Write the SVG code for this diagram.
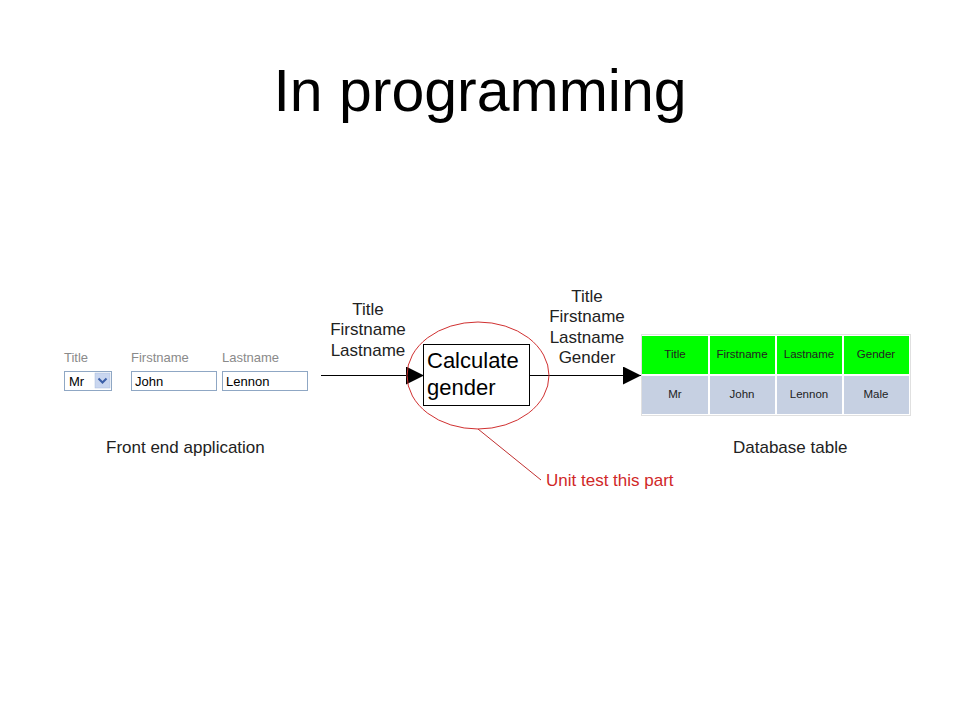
<svg xmlns="http://www.w3.org/2000/svg" width="960" height="720" viewBox="0 0 960 720">
<defs>
<style>
text{font-family:"Liberation Sans",Arial,sans-serif}
.lbl{font-size:13px;fill:#8a8a8a}
.inp{fill:#fff;stroke:#8fa7c4;stroke-width:1}
.val{font-size:13px;fill:#000}
.flow{font-size:17px;fill:#222;text-anchor:middle}
.cap{font-size:17px;fill:#222}
.hd{fill:#00ff00}
.bd{fill:#c6d0e2}
.ct{font-size:11.5px;fill:#222;text-anchor:middle}
.conn{stroke:#000;stroke-width:1;fill:none}
</style>
<marker id="ah" markerWidth="18" markerHeight="18" refX="18" refY="9" orient="auto" markerUnits="userSpaceOnUse">
<path d="M0,0 L18,9 L0,18 Z" fill="#000"/>
</marker>
</defs>
<rect width="960" height="720" fill="#fff"/>
<text x="480" y="111" font-size="59" text-anchor="middle" fill="#000">In programming</text>

<g id="frontend">
<text class="lbl" x="64" y="362">Title</text>
<text class="lbl" x="131" y="362">Firstname</text>
<text class="lbl" x="222" y="362">Lastname</text>
<rect class="inp" x="64.5" y="371.5" width="47" height="19"/>
<text class="val" x="69" y="386">Mr</text>
<rect x="95" y="373" width="15" height="15" fill="#c9d6ef" stroke="#a9bbdc" stroke-width="0.5"/>
<path d="M98.5,378.5 L102.5,382.5 L106.5,378.5" fill="none" stroke="#3b5fa8" stroke-width="2"/>
<rect class="inp" x="131.5" y="371.5" width="85" height="19"/>
<text class="val" x="135" y="386">John</text>
<rect class="inp" x="222.5" y="371.5" width="85" height="19"/>
<text class="val" x="226" y="386">Lennon</text>
<text class="cap" x="106" y="453">Front end application</text>
</g>

<g id="connectors">
<line class="conn" x1="321" y1="375.5" x2="424" y2="375.5" marker-end="url(#ah)"/>
<line class="conn" x1="530" y1="375.5" x2="641" y2="375.5" marker-end="url(#ah)"/>
<line x1="478" y1="429" x2="541" y2="480" stroke="#c03030" stroke-width="1"/>
</g>

<g id="input-labels">
<text class="flow" x="368" y="315">Title</text>
<text class="flow" x="368" y="335">Firstname</text>
<text class="flow" x="368" y="356">Lastname</text>
</g>

<g id="calculate">
<rect x="423.5" y="344.5" width="106" height="61" fill="#fff" stroke="#000" stroke-width="1"/>
<text x="427" y="368" font-size="22" fill="#000">Calculate</text>
<text x="427" y="395" font-size="22" fill="#000">gender</text>
</g>

<g id="unit-test">
<ellipse cx="478" cy="375.5" rx="71" ry="53.5" fill="none" stroke="#d03030" stroke-width="1"/>
<text x="546" y="486" font-size="17" fill="#d02828">Unit test this part</text>
</g>

<g id="output-labels">
<text class="flow" x="587" y="302">Title</text>
<text class="flow" x="587" y="322">Firstname</text>
<text class="flow" x="587" y="343">Lastname</text>
<text class="flow" x="587" y="363">Gender</text>
</g>

<g id="db-table">
<rect x="641.5" y="334.5" width="269" height="81" fill="#fff" stroke="#e0e0e0"/>
<rect class="hd" x="642" y="336" width="66" height="38"/>
<rect class="hd" x="710" y="336" width="65" height="38"/>
<rect class="hd" x="777" y="336" width="65" height="38"/>
<rect class="hd" x="844" y="336" width="65" height="38"/>
<rect class="bd" x="642" y="376" width="66" height="38"/>
<rect class="bd" x="710" y="376" width="65" height="38"/>
<rect class="bd" x="777" y="376" width="65" height="38"/>
<rect class="bd" x="844" y="376" width="65" height="38"/>
<text class="ct" x="675" y="358">Title</text>
<text class="ct" x="742" y="358">Firstname</text>
<text class="ct" x="809" y="358">Lastname</text>
<text class="ct" x="876" y="358">Gender</text>
<text class="ct" x="675" y="398">Mr</text>
<text class="ct" x="742" y="398">John</text>
<text class="ct" x="809" y="398">Lennon</text>
<text class="ct" x="876" y="398">Male</text>
<text class="cap" x="733" y="453">Database table</text>
</g>
</svg>
